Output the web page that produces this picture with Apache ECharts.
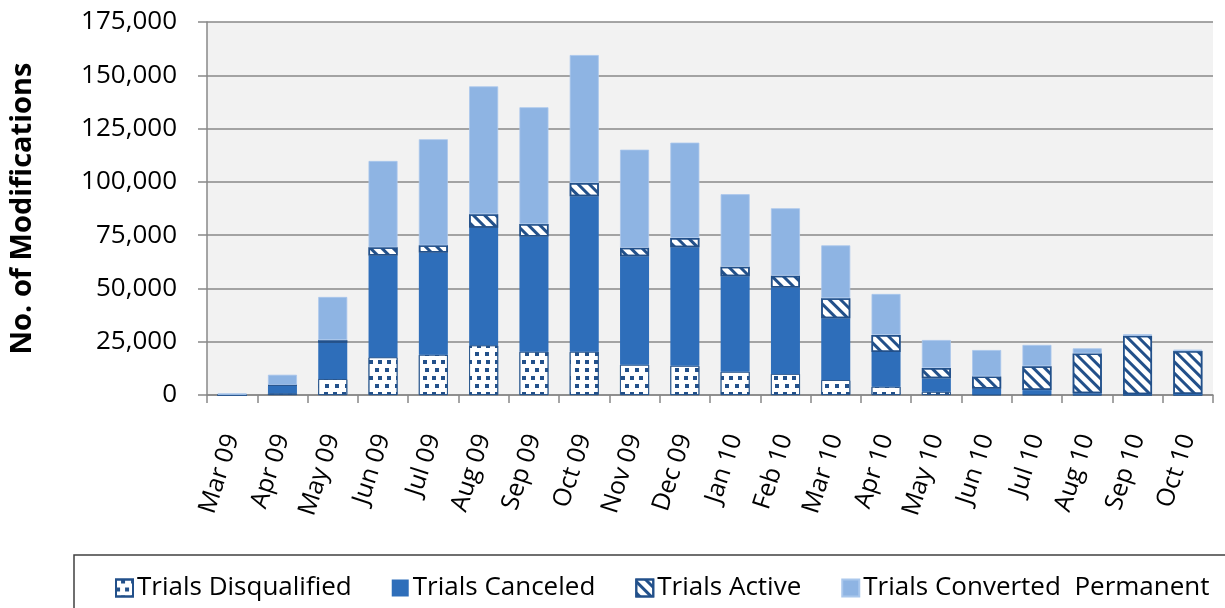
<!DOCTYPE html>
<html>
<head>
<meta charset="utf-8">
<title>Trial Modifications</title>
<script src="https://cdn.jsdelivr.net/npm/echarts@6/dist/echarts.min.js"></script>
<style>
  html, body { margin: 0; padding: 0; background: #fff; }
  #myChart { width: 1225px; height: 608px; }
</style>
</head>
<body>
<div id="myChart"></div>
<script>
  // categories (months)
  var months = ['Mar 09', 'Apr 09', 'May 09', 'Jun 09', 'Jul 09', 'Aug 09', 'Sep 09', 'Oct 09', 'Nov 09', 'Dec 09',
    'Jan 10', 'Feb 10', 'Mar 10', 'Apr 10', 'May 10', 'Jun 10', 'Jul 10', 'Aug 10', 'Sep 10', 'Oct 10']

  // stacked series, bottom to top
  var disqualified = [0, 800, 7500, 17700, 18900, 23300, 20300, 20300, 14200, 13700,
    10900, 9900, 7000, 3900, 1500, 300, 300, 200, 100, 100]
  var canceled = [0, 3700, 17000, 47800, 47900, 55200, 54100, 72900, 50900, 55600,
    44800, 40500, 29000, 16300, 6300, 2800, 2000, 600, 300, 400]
  var active = [0, 200, 1200, 3800, 3400, 6300, 5800, 6300, 4000, 4400,
    4500, 5600, 9400, 8000, 4900, 5600, 11200, 18700, 27400, 20100]
  var converted = [800, 4800, 20300, 40500, 49800, 60000, 54800, 60000, 46000, 44700,
    34000, 31600, 24800, 19200, 13100, 12400, 10000, 2400, 700, 700]

  // y axis ticks
  var yMin = 0
  var yMax = 175000
  var yStep = 25000

  var seriesNames = ['Trials Disqualified', 'Trials Canceled', 'Trials Active', 'Trials Converted  Permanent']

  var font = 'Open Sans'
  var dark = '#22508A'
  var gridGray = '#888888'

  var myChart = echarts.init(document.getElementById('myChart'))

  var option = {
    backgroundColor: '#fff',
    textStyle: { fontFamily: font, color: '#000' },
    grid: {
      left: 207,
      right: 12,
      top: 22,
      bottom: 213,
      show: true,
      backgroundColor: '#f2f2f2',
      borderWidth: 0
    },
    legend: {
      data: seriesNames,
      left: 74,
      top: 555,
      width: 1300,
      orient: 'horizontal',
      padding: [20, 60, 20, 41],
      itemGap: 40,
      itemWidth: 17,
      itemHeight: 17,
      icon: 'rect',
      borderColor: '#404040',
      borderWidth: 1.5,
      textStyle: { fontFamily: font, fontSize: 26, color: '#000', padding: [0, 0, 0, -1] }
    },
    xAxis: {
      type: 'category',
      data: months,
      axisLine: { show: true, lineStyle: { color: gridGray, width: 1.5 } },
      axisTick: { show: true, length: 8, lineStyle: { color: gridGray, width: 1.5 } },
      axisLabel: {
        interval: 0,
        rotate: 72,
        margin: 40,
        fontSize: 25,
        fontFamily: font,
        color: '#000'
      }
    },
    yAxis: {
      type: 'value',
      min: yMin,
      max: yMax,
      interval: yStep,
      name: 'No. of Modifications',
      nameLocation: 'middle',
      nameGap: 170,
      nameTextStyle: { fontFamily: font, fontSize: 29, fontWeight: 'bold', color: '#000' },
      axisLine: { show: true, lineStyle: { color: gridGray, width: 1.5 } },
      axisTick: { show: true, length: 9, lineStyle: { color: gridGray, width: 1.5 } },
      splitLine: { show: true, lineStyle: { color: gridGray, width: 1.5 } },
      axisLabel: {
        margin: 30,
        fontSize: 26,
        fontFamily: font,
        color: '#000',
        formatter: function (v) {
          return String(v).replace(/\B(?=(\d{3})+(?!\d))/g, ',')
        }
      }
    },
    series: [{
        name: seriesNames[0],
        type: 'bar',
        stack: 'total',
        barWidth: 29,
        itemStyle: {
          color: '#fff',
          borderColor: dark,
          borderWidth: 0.8,
          decal: {
            symbol: 'rect',
            symbolSize: 1,
            color: dark,
            dashArrayX: [[4, 5], [0, 4.5, 4, 0.5]],
            dashArrayY: [4, 3.5]
          }
        },
        data: disqualified
      },
      {
        name: seriesNames[1],
        type: 'bar',
        stack: 'total',
        barWidth: 29,
        itemStyle: { color: '#2e6eba' },
        data: canceled
      },
      {
        name: seriesNames[2],
        type: 'bar',
        stack: 'total',
        barWidth: 29,
        itemStyle: {
          color: '#fff',
          borderColor: dark,
          borderWidth: 1.5,
          decal: {
            symbol: 'rect',
            symbolSize: 1,
            color: dark,
            dashArrayX: [1, 0],
            dashArrayY: [3, 5],
            rotation: Math.PI / 4
          }
        },
        data: active
      },
      {
        name: seriesNames[3],
        type: 'bar',
        stack: 'total',
        barWidth: 29,
        itemStyle: { color: '#8eb4e3', borderColor: '#a9c7ec', borderWidth: 0.8 },
        data: converted
      }
    ]
  }

  myChart.setOption(option)
</script>
</body>
</html>
